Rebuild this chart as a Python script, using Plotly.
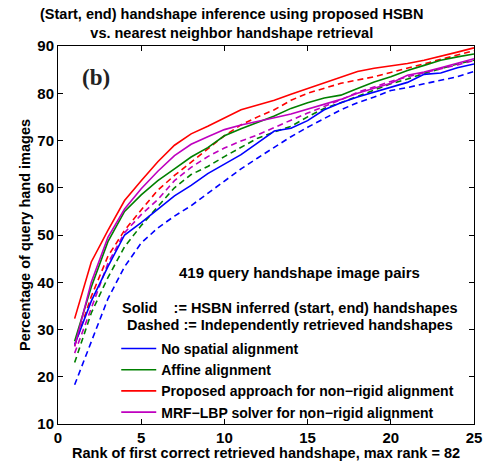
import plotly.graph_objects as go

ranks = list(range(1, 26))

no_align_solid = [26.8, 36.0, 43.3, 50.0, 52.6, 55.5, 58.3, 60.5, 63.0, 65.0, 67.0, 69.5, 72.0, 72.6, 74.2, 76.5, 78.0, 79.2, 80.2, 81.2, 82.3, 84.0, 84.3, 85.4, 86.2]
affine_solid = [27.5, 39.0, 48.6, 55.0, 58.5, 61.5, 64.0, 66.5, 68.5, 71.0, 72.5, 73.8, 75.2, 76.8, 78.0, 79.0, 79.6, 81.0, 82.4, 83.5, 84.8, 85.9, 87.0, 87.7, 88.3]
proposed_solid = [32.3, 44.3, 51.0, 57.3, 61.5, 65.5, 69.0, 71.4, 73.0, 74.8, 76.5, 77.5, 78.5, 79.8, 81.0, 82.2, 83.5, 84.6, 85.3, 85.8, 86.3, 87.0, 87.8, 88.7, 89.6]
mrf_solid = [26.4, 40.0, 49.5, 55.5, 59.8, 63.5, 66.8, 69.2, 70.8, 72.3, 73.3, 74.0, 74.8, 75.6, 76.6, 77.6, 78.7, 80.0, 81.1, 82.1, 83.8, 84.5, 85.4, 86.4, 87.3]

no_align_dashed = [18.3, 27.5, 36.5, 43.3, 48.3, 51.5, 54.0, 56.2, 58.8, 61.5, 64.0, 66.3, 68.5, 70.8, 72.8, 74.7, 76.5, 78.0, 79.2, 80.6, 81.2, 82.0, 82.7, 83.5, 84.6]
affine_dashed = [23.0, 33.5, 41.0, 47.5, 52.0, 56.0, 60.0, 62.8, 64.5, 66.6, 68.6, 70.5, 71.8, 73.0, 75.0, 76.8, 78.0, 79.3, 80.6, 82.0, 83.0, 84.2, 85.2, 86.2, 87.0]
proposed_dashed = [26.5, 37.0, 45.5, 51.0, 55.3, 59.5, 62.6, 65.4, 68.2, 71.0, 73.3, 75.0, 76.5, 78.5, 80.0, 81.0, 82.1, 82.8, 83.5, 84.4, 85.3, 86.3, 87.2, 88.1, 89.0]
mrf_dashed = [25.0, 34.5, 44.0, 50.5, 54.3, 57.5, 61.5, 64.3, 66.6, 68.4, 69.9, 71.2, 72.8, 74.3, 75.8, 77.2, 78.6, 80.2, 81.4, 82.5, 83.5, 84.3, 85.1, 86.0, 86.9]

names = ["No spatial alignment", "Affine alignment",
         "Proposed approach for non\u2212rigid alignment", "MRF\u2212LBP solver for non\u2212rigid alignment"]
colors = ["#0000ff", "#008000", "#ff0000", "#bf00bf"]
solids = [no_align_solid, affine_solid, proposed_solid, mrf_solid]
dasheds = [no_align_dashed, affine_dashed, proposed_dashed, mrf_dashed]

x_ticks = [0, 5, 10, 15, 20, 25]
y_ticks = [10, 20, 30, 40, 50, 60, 70, 80, 90]

FONT = "Liberation Sans, Arial, Helvetica, sans-serif"
FS = 14.5

fig = go.Figure()
for name, col, ys in zip(names, colors, dasheds):
    fig.add_trace(go.Scatter(x=ranks, y=ys, mode="lines", showlegend=False,
                             line=dict(color=col, width=1.6, dash="6px,4px")))
for name, col, ys in zip(names, colors, solids):
    fig.add_trace(go.Scatter(x=ranks, y=ys, mode="lines", name="<b>" + name + "</b>",
                             line=dict(color=col, width=1.6)))

axis_common = dict(showline=True, linecolor="black", linewidth=1, mirror="ticks",
                   ticks="inside", ticklen=5, tickcolor="black", showgrid=False,
                   zeroline=False, automargin=False,
                   tickfont=dict(family=FONT, size=15, color="black", weight="bold"))

fig.update_xaxes(range=[0, 25], tickvals=x_ticks, ticktext=["<b>%d</b>" % v for v in x_ticks],
                 **axis_common,
                 title=dict(text="<b>Rank of first correct retrieved handshape, max rank = 82</b>",
                            font=dict(family=FONT, size=FS, color="black"), standoff=0))
fig.update_yaxes(range=[10, 90], tickvals=y_ticks, ticktext=["<b>%d</b>" % v for v in y_ticks],
                 **axis_common,
                 title=dict(text="<b>Percentage of query hand images</b>",
                            font=dict(family=FONT, size=FS, color="black"), standoff=3))

fig.update_layout(
    width=488, height=461,
    margin=dict(l=58, r=14, t=46, b=37),
    paper_bgcolor="white", plot_bgcolor="white",
    font=dict(family=FONT, color="black"),
    legend=dict(x=0.14, xanchor="left", y=0.241, yanchor="top",
                bgcolor="rgba(255,255,255,0)", borderwidth=0,
                font=dict(family=FONT, size=14, color="black"),
                tracegroupgap=0, itemwidth=35),
    annotations=[
        dict(x=0.418, y=1, xref="paper", yref="paper", xanchor="center", yanchor="bottom", yshift=3,
             text="<b>(Start, end) handshape inference using proposed HSBN<br>vs. nearest neighbor handshape retrieval</b>",
             showarrow=False, align="center",
             font=dict(family=FONT, size=FS, color="black")),
        dict(x=2.3, y=83.4, xref="x", yref="y", text="<b>(b)</b>", showarrow=False,
             font=dict(family="Liberation Serif, Times New Roman, serif", size=23, color="#222222")),
        dict(x=14.5, y=42.0, xref="x", yref="y", text="<b>419 query handshape image pairs</b>",
             showarrow=False, font=dict(family=FONT, size=15, color="black")),
        dict(x=3.7, y=34.5, xref="x", yref="y", xanchor="left",
             text="<b>Solid    := HSBN inferred (start, end) handshapes</b>",
             showarrow=False, font=dict(family=FONT, size=FS, color="black")),
        dict(x=4.0, y=30.9, xref="x", yref="y", xanchor="left",
             text="<b>Dashed := Independently retrieved handshapes</b>",
             showarrow=False, font=dict(family=FONT, size=FS, color="black")),
    ],
)

fig.write_html("out.html", config={"displayModeBar": False},
               post_script="document.body.style.margin='0';")
